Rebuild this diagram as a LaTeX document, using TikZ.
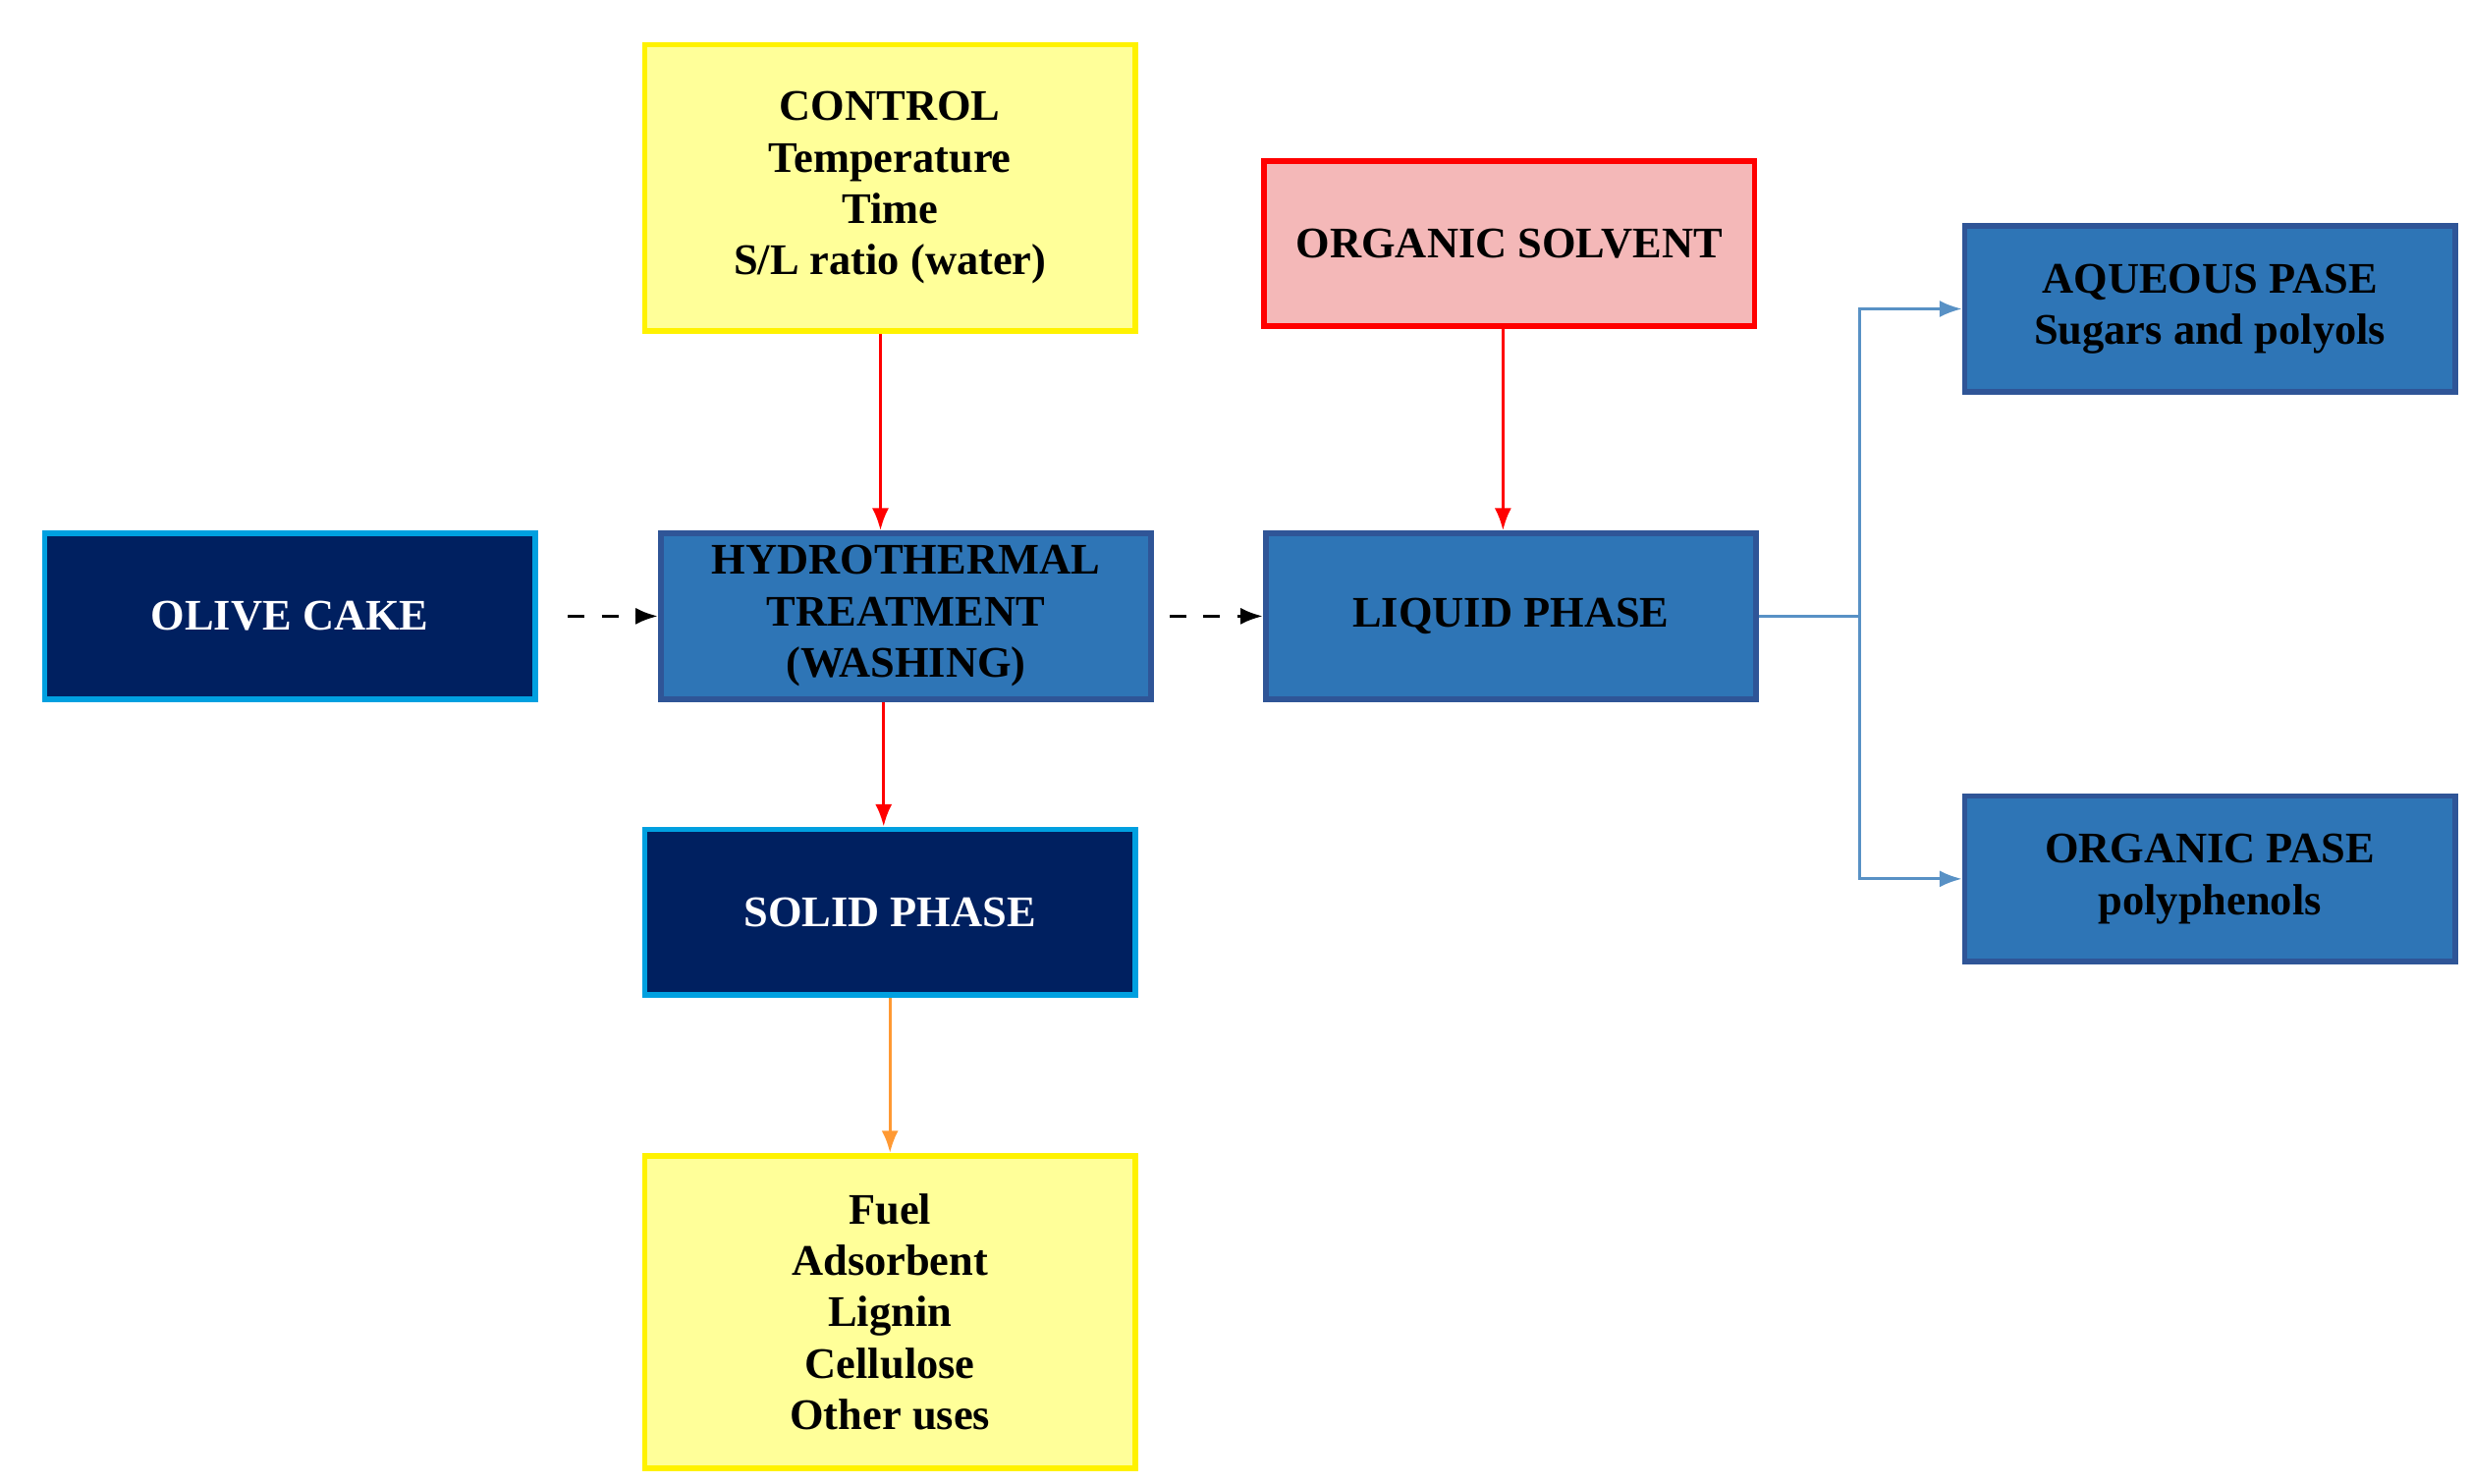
\documentclass[tikz,border=0pt]{standalone}
\usepackage{fontspec}
\setmainfont{Liberation Serif}
\usetikzlibrary{arrows.meta}
\definecolor{stepblue}{HTML}{2E75B6}
\definecolor{stepedge}{HTML}{2F5597}
\definecolor{navy}{HTML}{002060}
\definecolor{cyanedge}{HTML}{00A0E0}
\definecolor{paleyellow}{HTML}{FFFF99}
\definecolor{pink}{HTML}{F4B8B8}

\begin{document}
\begin{tikzpicture}[
      every node/.style={
        font=\bfseries\fontsize{7.8}{9.2}\selectfont,
        align=center,
      },
      box/.style={
        draw,
        line width=1pt,
        minimum width=3.08cm,
        minimum height=1.04cm,
        inner sep=1pt,
      },
      stage/.style={box, fill=stepblue, draw=stepedge, text=black},
      source/.style={box, fill=navy, draw=cyanedge, text=white},
      note/.style={box, fill=paleyellow, draw=yellow},
      solvent/.style={box, fill=pink, draw=red},
      flow/.style={-{Latex[length=4pt, width=3pt]}, line width=0.6pt},
      >={Latex[length=4pt, width=3pt]},
    ]
    \useasboundingbox (0,0) rectangle (15.52,-9.32);

    \node[note, minimum height=1.8cm] (Control) at (5.59, -1.18) {CONTROL\\Temperature\\Time\\S/L ratio (water)};
    \node[solvent] (Solvent) at (9.48, -1.53) {ORGANIC SOLVENT};
    \node[stage] (Aqueous) at (13.88, -1.94) {AQUEOUS PASE\\Sugars and polyols};
    \node[source] (OliveCake) at (1.82, -3.87) {OLIVE CAKE};
    \node[stage] (Hydro) at (5.69, -3.87) {HYDROTHERMAL\\TREATMENT\\(WASHING)};
    \node[stage] (Liquid) at (9.49, -3.87) {LIQUID PHASE};
    \node[stage] (Organic) at (13.88, -5.52) {ORGANIC PASE\\polyphenols};
    \node[source] (Solid) at (5.59, -5.73) {SOLID PHASE};
    \node[note, minimum height=1.96cm] (Uses) at (5.59, -8.24) {Fuel\\Adsorbent\\Lignin\\Cellulose\\Other uses};
    \coordinate (Split) at (11.68, -3.87);

    \draw[flow, red] (Control.south -| 5.53,0) -- (Hydro.north -| 5.53,0);
    \draw[flow, red] (Hydro.south -| 5.55,0) -- (Solid.north -| 5.55,0);
    \draw[flow, orange!80] (Solid) -- (Uses);
    \draw[flow, red] (Solvent.south -| 9.44,0) -- (Liquid.north -| 9.44,0);
    \draw[flow, dashed, shorten <=0.19cm] (OliveCake) -- (Hydro);
    \draw[flow, dashed, shorten <=0.1cm] (Hydro) -- (Liquid);
    \draw[stepblue!80, line width=0.5pt] (Liquid) -- (Split);
    \draw[flow, stepblue!80, line width=0.5pt] (Split) |- (Aqueous);
    \draw[flow, stepblue!80, line width=0.5pt] (Split) |- (Organic);
  \end{tikzpicture}
\end{document}
